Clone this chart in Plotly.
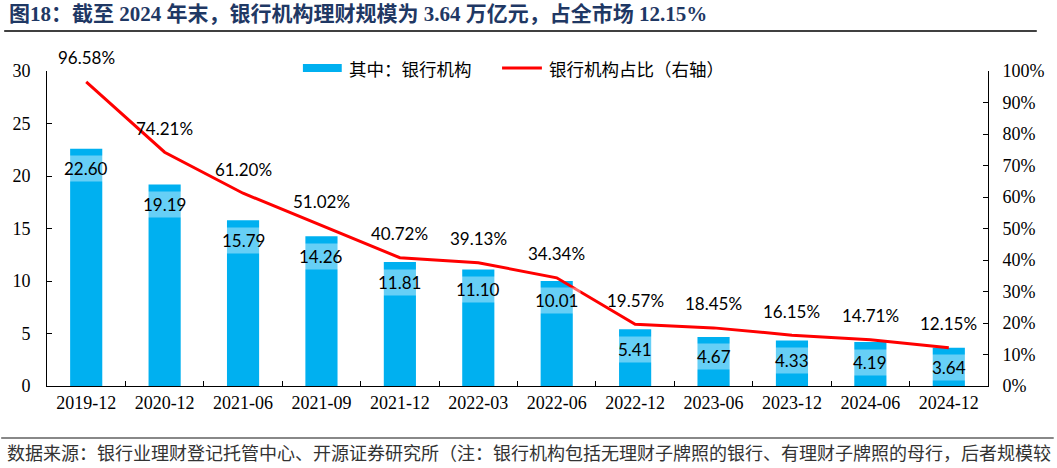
import plotly.graph_objects as go

categories = ["2019-12", "2020-12", "2021-06", "2021-09", "2021-12", "2022-03",
              "2022-06", "2022-12", "2023-06", "2023-12", "2024-06", "2024-12"]
bank_scale = [22.60, 19.19, 15.79, 14.26, 11.81, 11.10, 10.01, 5.41, 4.67, 4.33, 4.19, 3.64]
bank_share = [0.9658, 0.7421, 0.6120, 0.5102, 0.4072, 0.3913, 0.3434, 0.1957, 0.1845, 0.1615, 0.1471, 0.1215]

W, H = 1057, 468
L, R, T, B = 46, 66, 71, 82
PW, PH = W - L - R, H - T - B

def px(x):
    return (x - L) / PW

def py(y):
    return (H - B - y) / PH

BLUE = "#00B0F0"
RED = "#FF0000"
SERIF = "'Liberation Serif', 'Times New Roman', serif"
CJK = "'Noto Sans CJK SC'"
LABEL = "Lato, 'Open Sans', sans-serif"

fig = go.Figure()
fig.add_trace(go.Bar(x=categories, y=bank_scale, marker=dict(color=BLUE, line=dict(width=0)),
                     width=0.41, name="其中：银行机构", showlegend=False, yaxis="y"))
fig.add_trace(go.Scatter(x=categories, y=bank_share, mode="lines", line=dict(color=RED, width=3),
                         name="银行机构占比（右轴）", showlegend=False, yaxis="y2"))

annotations = []
for c, v in zip(categories, bank_scale):
    annotations.append(dict(x=c, y=v, xref="x", yref="y", text=f"{v:.2f}", showarrow=False,
                            yanchor="middle", yshift=-20, bgcolor="rgba(255,255,255,0.4)",
                            borderpad=2, font=dict(family=LABEL, size=17, color="#000")))
for c, v in zip(categories, bank_share):
    annotations.append(dict(x=c, y=v, xref="x", yref="y2", text=f"{v*100:.2f}%", showarrow=False,
                            yanchor="middle", yshift=24,
                            font=dict(family=LABEL, size=17, color="#000")))

# title, legend text, footer
annotations.append(dict(x=px(6), y=py(14), xref="paper", yref="paper", xanchor="left", yanchor="middle",
                        text="<b>图18：截至 2024 年末，银行机构理财规模为 3.64 万亿元，占全市场 12.15%</b>",
                        showarrow=False, font=dict(family=SERIF + ", " + CJK, size=21, color="#1F3864")))
annotations.append(dict(x=px(347), y=py(68), xref="paper", yref="paper", xanchor="left", yanchor="middle",
                        text="其中：银行机构", showarrow=False, font=dict(family=CJK, size=17.5, color="#000")))
annotations.append(dict(x=px(548), y=py(68), xref="paper", yref="paper", xanchor="left", yanchor="middle",
                        text="银行机构占比（右轴）", showarrow=False, font=dict(family=CJK, size=17.5, color="#000")))
annotations.append(dict(x=px(4), y=py(452), xref="paper", yref="paper", xanchor="left", yanchor="middle",
                        text="数据来源：银行业理财登记托管中心、开源证券研究所（注：银行机构包括无理财子牌照的银行、有理财子牌照的母行，后者规模较",
                        showarrow=False, font=dict(family=CJK, size=18, color="#333")))

shapes = [
    dict(type="rect", xref="paper", yref="paper", x0=px(303), x1=px(342), y0=py(72), y1=py(64),
         fillcolor=BLUE, line=dict(width=0)),
    dict(type="line", xref="paper", yref="paper", x0=px(503), x1=px(543), y0=py(68), y1=py(68),
         line=dict(color=RED, width=3)),
    dict(type="line", xref="paper", yref="paper", x0=px(3), x1=px(1040), y0=py(31), y1=py(31),
         line=dict(color="#000", width=1.5)),
    dict(type="line", xref="paper", yref="paper", x0=px(0), x1=px(1057), y0=py(438), y1=py(438),
         line=dict(color="#888", width=2)),
]

fig.update_layout(
    width=W, height=H, margin=dict(l=L, r=R, t=T, b=B),
    paper_bgcolor="white", plot_bgcolor="white",
    annotations=annotations, shapes=shapes, showlegend=False,
    xaxis=dict(type="category", showline=True, linecolor="#000", linewidth=1,
               ticks="inside", ticklen=5, tickcolor="#000", tickson="boundaries",
               tickfont=dict(family=SERIF, size=18, color="#000"), showgrid=False, zeroline=False),
    yaxis=dict(range=[0, 30], dtick=5, showline=True, linecolor="#000", linewidth=1,
               ticks="inside", ticklen=5, tickcolor="#000", showgrid=False, zeroline=False,
               tickfont=dict(family=SERIF, size=18, color="#000"), ticklabelstandoff=12),
    yaxis2=dict(range=[0, 1], dtick=0.1, tickformat=".0%", overlaying="y", side="right",
                showline=True, linecolor="#000", linewidth=1, ticks="inside", ticklen=5,
                tickcolor="#000", showgrid=False, zeroline=False,
                tickfont=dict(family=SERIF, size=18, color="#000"), ticklabelstandoff=10),
)

fig.write_html("out.html", config={"displayModeBar": False},
               post_script="document.body.style.margin='0';document.body.style.overflow='hidden';")
